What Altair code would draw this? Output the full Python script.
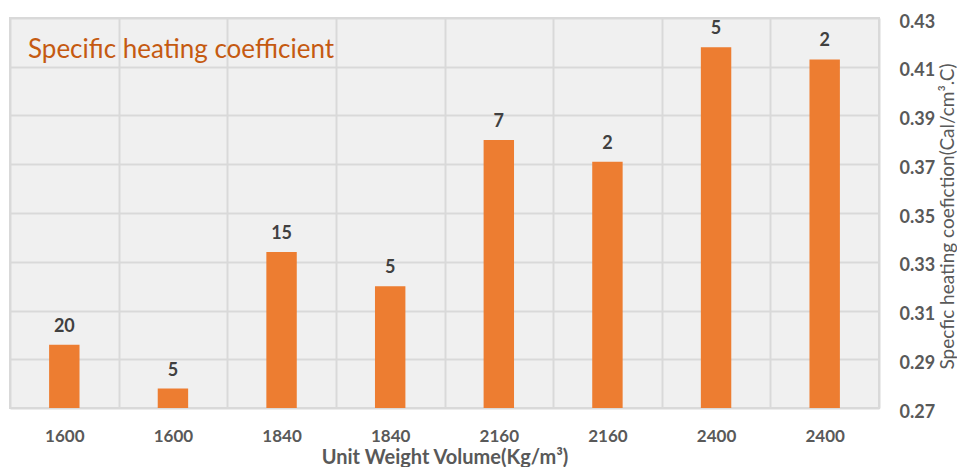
import json
import altair as alt
import pandas as pd

x_labels = ["1600", "1600", "1840", "1840", "2160", "2160", "2400", "2400"]
values = [0.296, 0.278, 0.334, 0.320, 0.380, 0.371, 0.418, 0.413]
bar_labels = ["20", "5", "15", "5", "7", "2", "5", "2"]
y_ticks = [0.27, 0.29, 0.31, 0.33, 0.35, 0.37, 0.39, 0.41, 0.43]

df = pd.DataFrame({
    "idx": list(range(len(values))),
    "value": values,
    "lab": bar_labels,
})

FONT = "Lato"
label_expr = json.dumps(x_labels) + "[datum.value]"

x_enc = alt.X(
    "idx:O",
    scale=alt.Scale(paddingInner=0, paddingOuter=0),
    axis=alt.Axis(
        title="Unit Weight Volume(Kg/m³)",
        labelExpr=label_expr,
        labelAngle=0,
        labelFont=FONT, labelFontSize=17, labelFontWeight="bold", labelColor="#595959",
        labelPadding=20,
        titleFont=FONT, titleFontSize=20, titleFontWeight="bold", titleColor="#595959",
        titlePadding=3,
        ticks=False, domain=False, tickBand="extent",
        grid=True, gridColor="#d9d9d9", gridWidth=2,
    ),
)

y_enc = alt.Y(
    "value:Q",
    scale=alt.Scale(domain=[0.27, 0.43], zero=False, nice=False),
    axis=alt.Axis(
        orient="right",
        values=y_ticks, format=".2f",
        title="Specfic heating coefiction(Cal/cm³.C)",
        titleAngle=270, titleX=68, titleY=198, titleAlign="center", titleBaseline="middle",
        titleFont=FONT, titleFontSize=19, titleFontWeight="normal", titleColor="#595959",
        labelFont=FONT, labelFontSize=18, labelFontWeight="bold", labelColor="#595959",
        labelPadding=20, labelOffset=4,
        ticks=False, domain=False,
        grid=True, gridColor="#d9d9d9", gridWidth=2,
    ),
)

bars = alt.Chart(df).mark_bar(
    color="#ED7D31", clip=True, width=alt.RelativeBandSize(0.28)
).encode(x=x_enc, y=y_enc)

texts = alt.Chart(df).mark_text(
    font=FONT, fontSize=18, fontWeight="bold", color="#404040",
    baseline="alphabetic", dy=-13,
).encode(x="idx:O", y="value:Q", text="lab:N")

title_df = pd.DataFrame({"t": ["Specific heating coefficient"]})
title = alt.Chart(title_df).mark_text(
    font=FONT, fontSize=26, color="#C55A11", align="left", baseline="alphabetic",
).encode(x=alt.value(18), y=alt.value(40), text="t:N")

chart = alt.layer(bars, texts, title).properties(
    width=869, height=390,
    padding={"left": 2, "top": 5, "right": 0, "bottom": 0},
).configure_view(
    fill="#f0f0f0", stroke="#d9d9d9", strokeWidth=2,
)

chart.save("out.html", embed_options={"renderer": "svg", "actions": False})
